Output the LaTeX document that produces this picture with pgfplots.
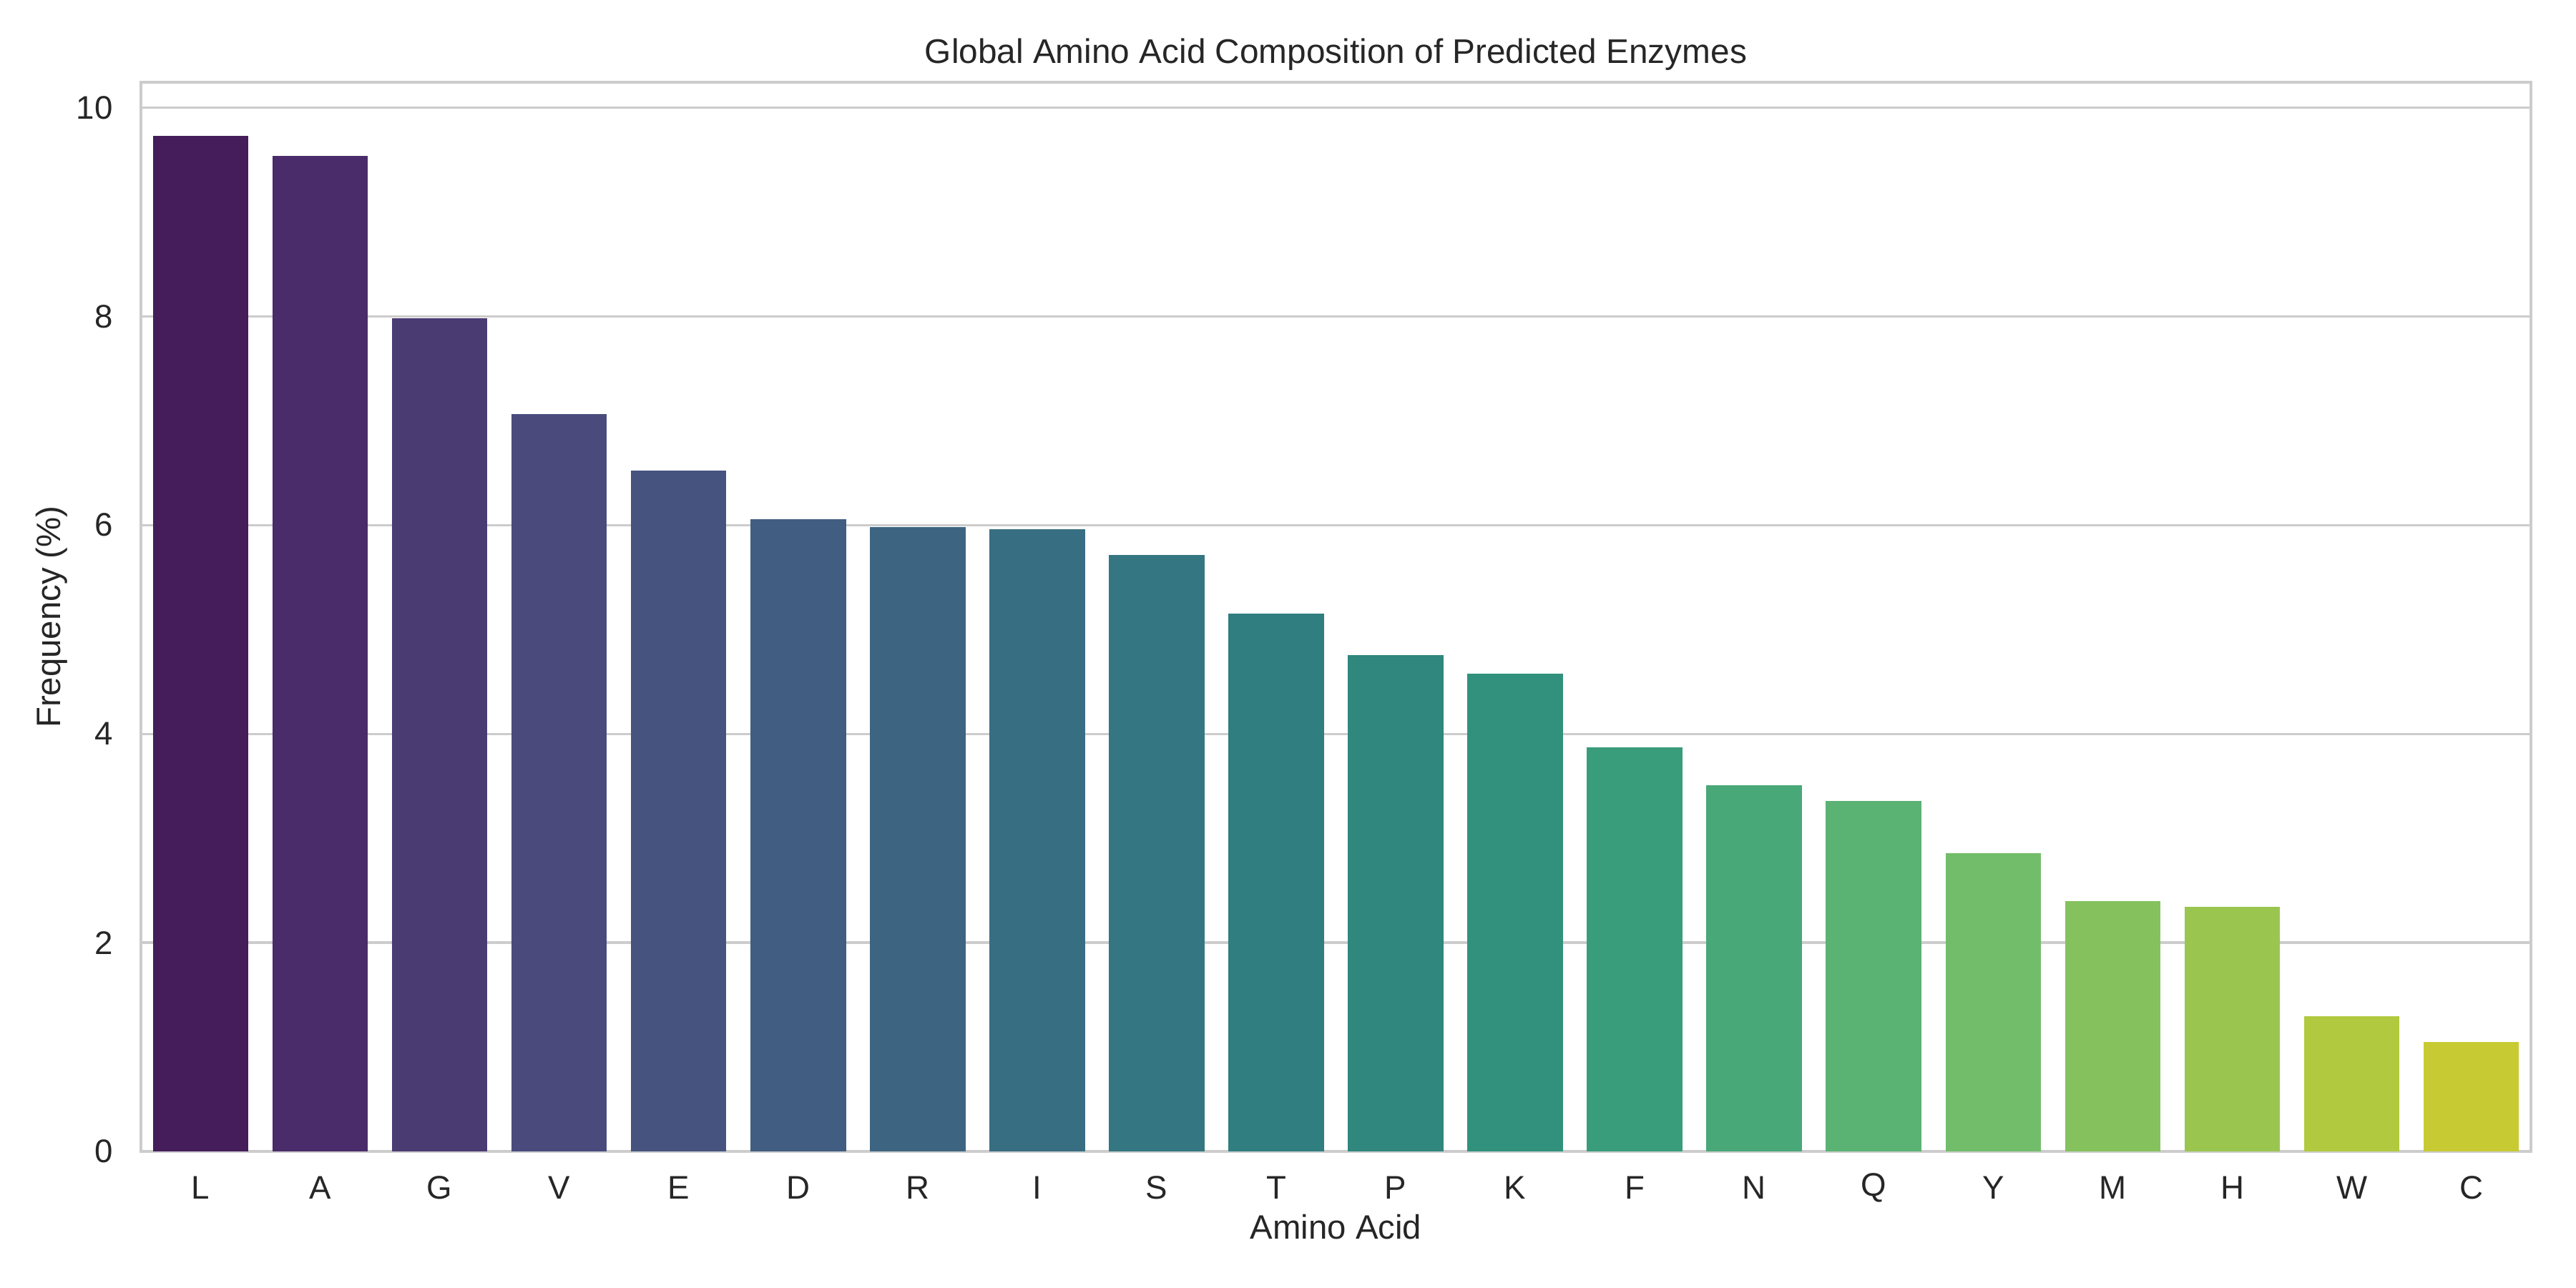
\documentclass[border=0pt]{standalone}
\usepackage{pgfplots}
\pgfplotsset{compat=1.18}
\usepackage{fontspec}
\setmainfont{Liberation Sans}

% muted viridis steps, one per residue
\definecolor{c01}{HTML}{441D5A}
\definecolor{c02}{HTML}{492C69}
\definecolor{c03}{HTML}{4A3B73}
\definecolor{c04}{HTML}{4A4A7D}
\definecolor{c05}{HTML}{46537F}
\definecolor{c06}{HTML}{415D81}
\definecolor{c07}{HTML}{3D6582}
\definecolor{c08}{HTML}{386E82}
\definecolor{c09}{HTML}{347681}
\definecolor{c10}{HTML}{307E7F}
\definecolor{c11}{HTML}{2F877D}
\definecolor{c12}{HTML}{31917C}
\definecolor{c13}{HTML}{399C7B}
\definecolor{c14}{HTML}{48A877}
\definecolor{c15}{HTML}{5AB273}
\definecolor{c16}{HTML}{72BD6A}
\definecolor{c17}{HTML}{85C25E}
\definecolor{c18}{HTML}{9AC64F}
\definecolor{c19}{HTML}{B1C93E}
\definecolor{c20}{HTML}{C8CA34}
\definecolor{gridgray}{HTML}{CCCCCC}
\definecolor{textgray}{HTML}{262626}

\begin{document}
\begin{tikzpicture}
\useasboundingbox (0,0) rectangle (867.24pt,433.62pt);
\begin{axis}[
  at={(47.4pt,45.85pt)}, anchor=south west,
  scale only axis, width=804.7pt, height=360pt,
  xmin=-0.5, xmax=19.5, ymin=0, ymax=10.24,
  ybar, bar width=0.8, bar shift=0pt,
  xtick={0,...,19},
  xticklabels={L,A,G,V,E,D,R,I,S,T,P,K,F,N,Q,Y,M,H,W,C},
  ytick={0,2,4,6,8,10},
  major tick length=0pt,
  axis line style={draw=gridgray, line width=0.9pt},
  ymajorgrids, grid style={draw=gridgray, line width=0.8pt},
  /pgf/number format/assume math mode=true,
  tick label style={font=\fontsize{11}{13}\selectfont, text=textgray, inner sep=0pt},
  xticklabel style={anchor=center, yshift=-12.3pt},
  yticklabel style={anchor=east, xshift=-9.2pt},
  label style={font=\fontsize{11.4}{13.5}\selectfont, text=textgray},
  xlabel={Amino Acid},
  xlabel style={at={(axis description cs:0.5,0)}, anchor=center, yshift=-25.4pt},
  ylabel={Frequency (\%)},
  ylabel style={at={(axis description cs:0,0.5)}, anchor=center, rotate=0, yshift=29.9pt},
  title={Global Amino Acid Composition of Predicted Enzymes},
  title style={font=\fontsize{11.5}{13.5}\selectfont, text=textgray, at={(axis description cs:0.5,1)}, anchor=center, yshift=3.4pt},
  every axis plot/.append style={draw=none},
]
\addplot[fill=c01] coordinates {(0,9.725)};
\addplot[fill=c02] coordinates {(1,9.534)};
\addplot[fill=c03] coordinates {(2,7.984)};
\addplot[fill=c04] coordinates {(3,7.065)};
\addplot[fill=c05] coordinates {(4,6.525)};
\addplot[fill=c06] coordinates {(5,6.055)};
\addplot[fill=c07] coordinates {(6,5.980)};
\addplot[fill=c08] coordinates {(7,5.960)};
\addplot[fill=c09] coordinates {(8,5.713)};
\addplot[fill=c10] coordinates {(9,5.155)};
\addplot[fill=c11] coordinates {(10,4.752)};
\addplot[fill=c12] coordinates {(11,4.580)};
\addplot[fill=c13] coordinates {(12,3.872)};
\addplot[fill=c14] coordinates {(13,3.509)};
\addplot[fill=c15] coordinates {(14,3.360)};
\addplot[fill=c16] coordinates {(15,2.854)};
\addplot[fill=c17] coordinates {(16,2.396)};
\addplot[fill=c18] coordinates {(17,2.341)};
\addplot[fill=c19] coordinates {(18,1.296)};
\addplot[fill=c20] coordinates {(19,1.052)};
\end{axis}
\end{tikzpicture}
\end{document}
